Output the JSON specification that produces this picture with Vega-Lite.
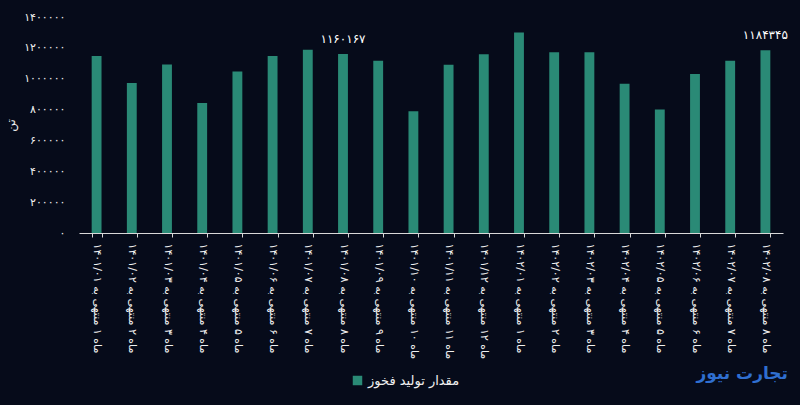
{
  "$schema": "https://vega.github.io/schema/vega-lite/v6.json",
  "width": 704,
  "height": 216,
  "autosize": {"type": "none"},
  "padding": {"left": 79, "top": 17, "right": 17, "bottom": 172},
  "background": "#060b1a",
  "title": {
    "text": "تجارت نیوز",
    "orient": "bottom",
    "anchor": "end",
    "color": "#2f6fd0",
    "font": "DejaVu Sans",
    "fontSize": 17,
    "fontWeight": "bold",
    "offset": 0,
    "dy": -22
  },
  "config": {
    "view": {"stroke": null},
    "font": "DejaVu Sans"
  },
  "data": {
    "values": [
      {"month": "ماه ۱ منتهی به ۱۴۰۱/۰۱", "value": 1147000, "note": ""},
      {"month": "ماه ۲ منتهی به ۱۴۰۱/۰۲", "value": 973000, "note": ""},
      {"month": "ماه ۳ منتهی به ۱۴۰۱/۰۳", "value": 1092000, "note": ""},
      {"month": "ماه ۴ منتهی به ۱۴۰۱/۰۴", "value": 843000, "note": ""},
      {"month": "ماه ۵ منتهی به ۱۴۰۱/۰۵", "value": 1047000, "note": ""},
      {"month": "ماه ۶ منتهی به ۱۴۰۱/۰۶", "value": 1147000, "note": ""},
      {"month": "ماه ۷ منتهی به ۱۴۰۱/۰۷", "value": 1188000, "note": ""},
      {"month": "ماه ۸ منتهی به ۱۴۰۱/۰۸", "value": 1160167, "note": "۱۱۶۰۱۶۷"},
      {"month": "ماه ۹ منتهی به ۱۴۰۱/۰۹", "value": 1117000, "note": ""},
      {"month": "ماه ۱۰ منتهی به ۱۴۰۱/۱۰", "value": 789000, "note": ""},
      {"month": "ماه ۱۱ منتهی به ۱۴۰۱/۱۱", "value": 1090000, "note": ""},
      {"month": "ماه ۱۲ منتهی به ۱۴۰۱/۱۲", "value": 1158000, "note": ""},
      {"month": "ماه ۱ منتهی به ۱۴۰۲/۰۱", "value": 1299000, "note": ""},
      {"month": "ماه ۲ منتهی به ۱۴۰۲/۰۲", "value": 1171000, "note": ""},
      {"month": "ماه ۳ منتهی به ۱۴۰۲/۰۳", "value": 1171000, "note": ""},
      {"month": "ماه ۴ منتهی به ۱۴۰۲/۰۴", "value": 967000, "note": ""},
      {"month": "ماه ۵ منتهی به ۱۴۰۲/۰۵", "value": 800000, "note": ""},
      {"month": "ماه ۶ منتهی به ۱۴۰۲/۰۶", "value": 1030000, "note": ""},
      {"month": "ماه ۷ منتهی به ۱۴۰۲/۰۷", "value": 1117000, "note": ""},
      {"month": "ماه ۸ منتهی به ۱۴۰۲/۰۸", "value": 1184345, "note": "۱۱۸۴۳۴۵"}
    ]
  },
  "encoding": {
    "x": {
      "field": "month",
      "type": "nominal",
      "sort": null,
      "scale": {"paddingInner": 0.72, "paddingOuter": 0.36},
      "axis": {
        "title": null,
        "labelAngle": 90,
        "labelAlign": "left",
        "labelBaseline": "middle",
        "labelColor": "#f0f0f0",
        "labelFontSize": 11,
        "labelPadding": 6,
        "labelLimit": 200,
        "labelOverlap": false,
        "domainColor": "#d8d8d8",
        "tickColor": "#d8d8d8",
        "tickSize": 4,
        "tickBand": "extent",
        "bandPosition": 0
      }
    },
    "y": {
      "field": "value",
      "type": "quantitative",
      "scale": {"domain": [0, 1400000]},
      "axis": {
        "title": "تن",
        "titleColor": "#f0f0f0",
        "titleFontSize": 12,
        "titleFontWeight": "normal",
        "titlePadding": 6,
        "values": [0, 200000, 400000, 600000, 800000, 1000000, 1200000, 1400000],
        "labelExpr": "replace(replace(replace(replace(replace(replace(replace(replace(replace(replace(toString(datum.value), /0/g, '۰'), /1/g, '۱'), /2/g, '۲'), /3/g, '۳'), /4/g, '۴'), /5/g, '۵'), /6/g, '۶'), /7/g, '۷'), /8/g, '۸'), /9/g, '۹')",
        "labelColor": "#f0f0f0",
        "labelFontSize": 11,
        "labelPadding": 14,
        "labelOverlap": false,
        "grid": false,
        "domain": false,
        "ticks": false
      }
    }
  },
  "layer": [
    {
      "mark": {"type": "bar"},
      "encoding": {
        "color": {
          "datum": "مقدار تولید فخوز",
          "type": "nominal",
          "scale": {"range": ["#2a8a76"]},
          "legend": {
            "title": null,
            "orient": "none",
            "legendX": 272,
            "legendY": 357,
            "labelColor": "#f0f0f0",
            "labelFontSize": 13,
            "symbolType": "square",
            "symbolSize": 90,
            "symbolStrokeWidth": 0
          }
        }
      }
    },
    {
      "mark": {"type": "text", "dy": -15, "color": "#ffffff", "fontSize": 12},
      "encoding": {
        "text": {"field": "note"}
      }
    }
  ]
}
